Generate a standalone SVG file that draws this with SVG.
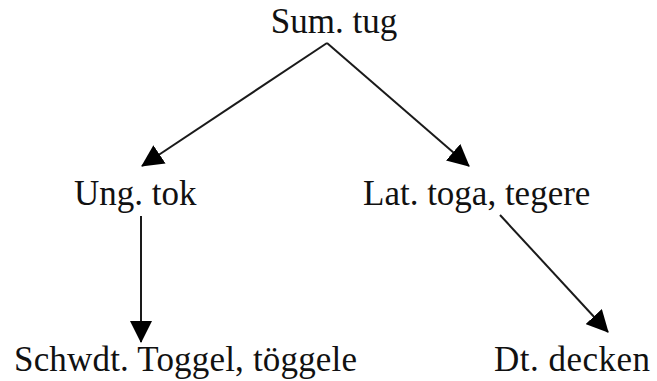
<svg xmlns="http://www.w3.org/2000/svg" width="657" height="381" viewBox="0 0 657 381">
  <style>
    .label { font-family: "Liberation Serif", "Times New Roman", serif; font-size: 35px; fill: #111; }
    .edge { stroke: #1a1a1a; stroke-width: 2; fill: none; marker-end: url(#arrow); }
  </style>
  <defs>
    <marker id="arrow" markerUnits="userSpaceOnUse" markerWidth="22" markerHeight="22" refX="21" refY="11" orient="auto">
      <path d="M0,0 L22,11 L0,22 Z" fill="#000"/>
    </marker>
  </defs>
  <rect width="657" height="381" fill="#fff"/>
  <g id="connectors">
    <line class="edge" x1="327" y1="43" x2="142" y2="166"/>
    <line class="edge" x1="327" y1="43" x2="469" y2="166"/>
    <line class="edge" x1="141" y1="216" x2="141" y2="342"/>
    <line class="edge" x1="500" y1="215" x2="608" y2="332"/>
  </g>
  <g id="sum-tug"><text class="label" x="334" y="33" text-anchor="middle">Sum. tug</text></g>
  <g id="ung-tok"><text class="label" x="74" y="205">Ung. tok</text></g>
  <g id="lat-toga"><text class="label" x="363" y="205">Lat. toga, tegere</text></g>
  <g id="schwdt-toggel"><text class="label" x="14" y="371" textLength="343">Schwdt. Toggel, töggele</text></g>
  <g id="dt-decken"><text class="label" x="494" y="371" textLength="156">Dt. decken</text></g>
</svg>
